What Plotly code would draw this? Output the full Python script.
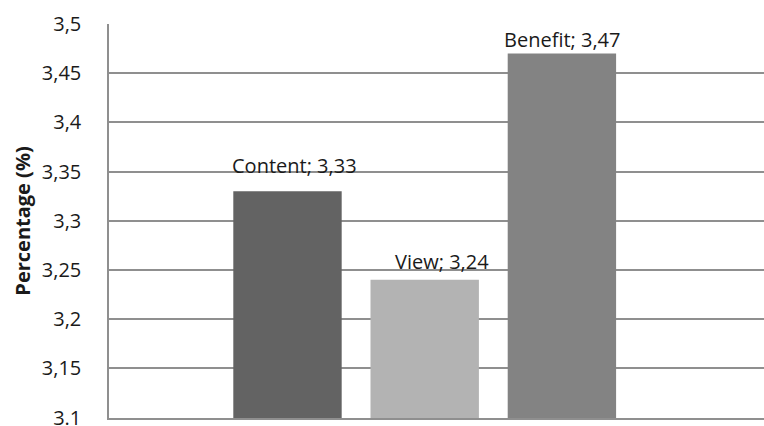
import plotly.graph_objects as go

categories = ["Content", "View", "Benefit"]
values = [3.33, 3.24, 3.47]
value_labels = ["3,33", "3,24", "3,47"]
colors = ["#636363", "#b3b3b3", "#838383"]
tick_vals = [3.1, 3.15, 3.2, 3.25, 3.3, 3.35, 3.4, 3.45, 3.5]
tick_text = ["3.1", "3,15", "3,2", "3,25", "3,3", "3,35", "3,4", "3,45", "3,5"]
label_xshift = [7, 17, 0]
label_yshift = [26, 18, 14]

FONT = "Open Sans"

fig = go.Figure()
fig.add_trace(go.Bar(
    x=categories, y=values, marker=dict(color=colors, line=dict(width=0)),
    showlegend=False, hoverinfo="skip",
))

for c, v, t, dx, dy in zip(categories, values, value_labels, label_xshift, label_yshift):
    fig.add_annotation(
        x=c, y=v, text=f"{c}; {t}", showarrow=False,
        xanchor="center", yanchor="middle", xshift=dx, yshift=dy,
        font=dict(family=FONT, size=20, color="#1a1a1a"),
    )

fig.update_layout(
    width=764, height=426,
    margin=dict(l=109, r=0, t=24, b=8, autoexpand=False),
    paper_bgcolor="white", plot_bgcolor="white",
    bargap=0.21,
    font=dict(family=FONT, size=20, color="#1a1a1a"),
    xaxis=dict(
        type="category", range=[-1.301, 3.473], showticklabels=False,
        showgrid=False, zeroline=False, showline=True,
        linecolor="#8f8f8f", linewidth=1.5, ticks="",
    ),
    yaxis=dict(
        range=[3.0995, 3.5], tickvals=tick_vals, ticktext=tick_text,
        showgrid=True, gridcolor="#8f8f8f", gridwidth=1.5,
        zeroline=False, showline=True, linecolor="#8f8f8f", linewidth=1.5,
        ticks="", ticklabelstandoff=22, automargin=False,
        ticklabeloverflow="allow",
        tickfont=dict(family=FONT, size=20, color="#1a1a1a"),
        title=dict(text="<b>Percentage (%)</b>", standoff=6,
                   font=dict(family=FONT, size=20, color="#1a1a1a")),
    ),
)

fig.write_html("out.html")
